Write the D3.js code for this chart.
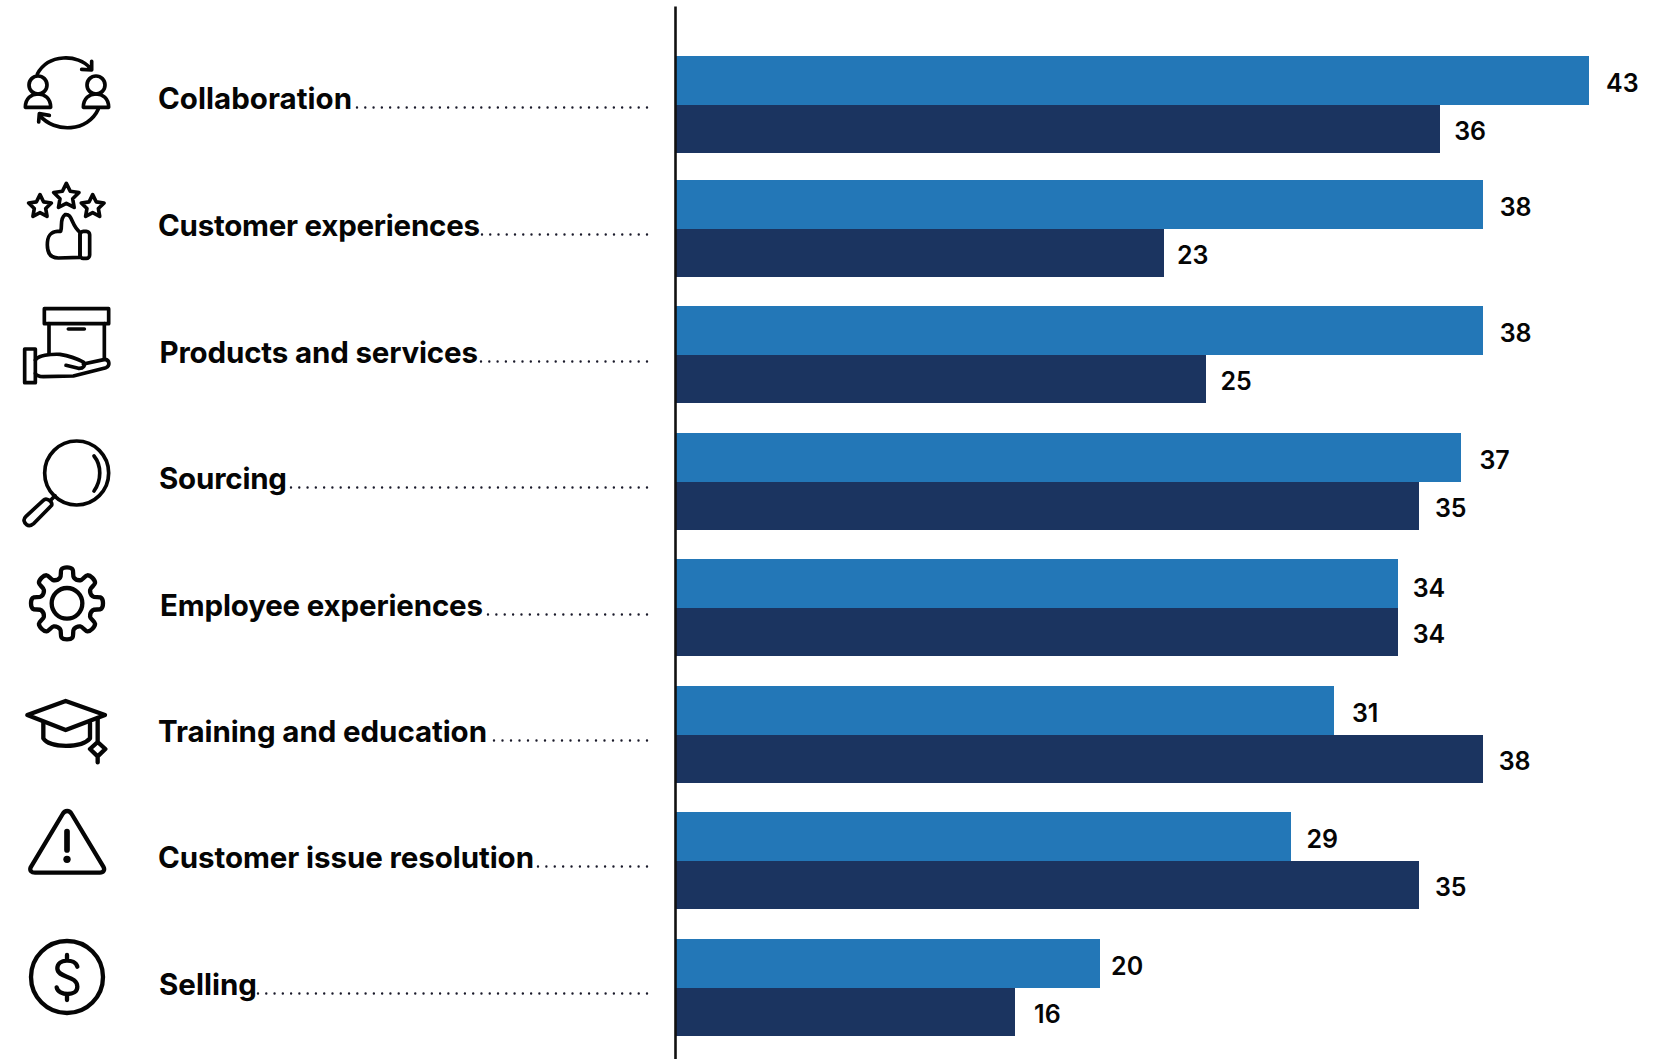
<!DOCTYPE html>
<html>
<head>
<meta charset="utf-8">
<script src="https://cdn.jsdelivr.net/npm/d3@7/dist/d3.min.js"></script>
<style>
  html, body { margin: 0; padding: 0; background: #fff; }
  svg { display: block; }
  .cat { font-family: Inter, sans-serif; font-weight: 700; font-size: 29.5px; fill: #050505; }
  .val { font-family: Inter, sans-serif; font-weight: 600; font-size: 25px; fill: #050505; }
  .icon * { fill: none; stroke: #050505; stroke-width: 11; stroke-linecap: round; stroke-linejoin: round; }
  .bar { shape-rendering: crispEdges; }
</style>
</head>
<body>
<svg id="chart" width="1672" height="1059"></svg>
<script>
// Survey values, one pair per capability
const categories = ["Collaboration", "Customer experiences", "Products and services", "Sourcing",
  "Employee experiences", "Training and education", "Customer issue resolution", "Selling"];
const lightValues = [43, 38, 38, 37, 34, 31, 29, 20];
const darkValues = [36, 23, 25, 35, 34, 38, 35, 16];
const seriesNames = ["light", "dark"];
const seriesColors = ["#2377B7", "#1B3460"];

// Row layout
const rowTops = [56, 180, 306, 433, 559, 686, 812, 939];
const labelLeft = [158, 158, 159.5, 159, 160, 158, 158, 159];
const labelRight = [352, 480, 478, 287, 483, 487, 534, 257];
const labelBase = [109, 236, 363, 489, 616, 742, 868, 995];
const leaderStart = [357, 482, 481, 291, 488, 494, 538, 258];
const leaderEnd = 647;
const lightNudge = [[1, 0.5], [1, 0.5], [1, 0.5], [2, 0.5], [-1, 2.5], [2, 0.5], [-1, 0.5], [-5, 0.5]];
const darkNudge = [[-2, 0.5], [-3, 0.5], [-2, 0.5], [0, 0.5], [-1, 0.5], [0, 0.5], [0, 0.5], [3, 0.5]];

const svg = d3.select("#chart");
const x = d3.scaleLinear().domain([0, 43]).range([675, 1589]);
const row = d3.scaleOrdinal(categories, rowTops);
const inner = d3.scaleBand().domain(seriesNames).range([0, 97.3]);

const rows = svg.selectAll("g.row").data(categories).join("g")
  .attr("class", "row")
  .attr("transform", d => `translate(0,${row(d)})`);

// Paired horizontal bars with their value labels
seriesNames.forEach((name, s) => {
  const values = s === 0 ? lightValues : darkValues;
  const nudge = s === 0 ? lightNudge : darkNudge;
  rows.append("rect")
    .attr("class", "bar")
    .attr("x", x(0))
    .attr("y", inner(name))
    .attr("width", (d, i) => x(values[i]) - x(0))
    .attr("height", inner.bandwidth())
    .attr("fill", seriesColors[s]);
  rows.append("text")
    .attr("class", "val")
    .attr("x", (d, i) => x(values[i]) + 16 + nudge[i][0])
    .attr("y", (d, i) => inner(name) + 35 + nudge[i][1])
    .text((d, i) => values[i]);
});

// Category labels and dotted leaders
categories.forEach((c, i) => {
  svg.append("text").attr("class", "cat")
    .attr("x", labelLeft[i]).attr("y", labelBase[i])
    .attr("textLength", labelRight[i] - labelLeft[i])
    .attr("lengthAdjust", "spacing")
    .text(c);
  const run = leaderEnd - leaderStart[i];
  const gap = run / Math.round(run / 8.3);
  svg.append("line")
    .attr("x1", leaderEnd).attr("x2", leaderStart[i] - 0.3)
    .attr("y1", labelBase[i] - 1.5).attr("y2", labelBase[i] - 1.5)
    .attr("stroke", "#1a1a2a").attr("stroke-width", 2.4)
    .attr("stroke-linecap", "round").attr("stroke-dasharray", `0 ${gap}`);
});

// Vertical baseline
const yAxis = d3.axisRight(d3.scaleLinear().domain([0, 1]).range([6, 1059])).tickValues([]).tickSizeOuter(0);
svg.append("g").attr("transform", "translate(675,0)").call(yAxis)
  .select(".domain").attr("stroke", "#111").attr("stroke-width", 2.6);

// Outline icons, drawn at triple size and scaled down
function icon(offsetY) {
  return svg.append("g").attr("class", "icon")
    .attr("transform", `translate(0,${offsetY}) scale(${1 / 3})`);
}
const star = (cx, cy, r) => {
  const pts = d3.range(10).map(k => {
    const a = -Math.PI / 2 + k * Math.PI / 5, q = k % 2 ? r * 0.5 : r;
    return [cx + q * Math.cos(a), cy + q * Math.sin(a)];
  });
  return "M" + pts.join("L") + "Z";
};

// Two people with circular arrows
const i1 = icon(30);
i1.append("path").attr("d", "M112 132C145 70 235 72 270 114M275 94L275 120L245 118");
i1.append("path").attr("d", "M295 237C265 305 165 312 118 255M116 276L118 251L148 256");
[113, 287].forEach(cx => {
  i1.append("circle").attr("cx", cx + 1).attr("cy", 165).attr("r", 27);
  i1.append("path").attr("d", `M${cx - 37} 232C${cx - 37} 205 ${cx - 19} 192 ${cx + 1} 192C${cx + 21} 192 ${cx + 39} 205 ${cx + 39} 232Z`);
});

// Stars over a thumbs-up
const i2 = icon(30);
i2.append("path").attr("d", star(199, 500, 40));
i2.append("path").attr("d", star(120, 530, 36));
i2.append("path").attr("d", star(278, 530, 36));
i2.append("path").attr("d", "M142 645C142 618 150 606 172 604L182 604C188 590 178 566 195 554C218 550 212 585 240 607L240 682L175 684C152 684 142 670 142 645Z");
i2.append("rect").attr("x", 240).attr("y", 604).attr("width", 29).attr("height", 81).attr("rx", 10);

// Box resting on a hand
const i3 = icon(280);
i3.append("rect").attr("x", 133).attr("y", 86).attr("width", 193).attr("height", 45);
i3.append("path").attr("d", "M147 131V222M313 131V236M205 147H253");
i3.append("rect").attr("x", 74).attr("y", 207).attr("width", 32).attr("height", 101);
i3.append("path").attr("d", "M106 240C115 226 150 222 180 223C210 228 235 238 250 246C258 256 250 266 235 265L198 256");
i3.append("path").attr("d", "M250 252L315 238C330 240 330 258 318 263L220 288L130 290C118 290 108 285 106 280");

// Magnifying glass
const i4 = icon(282);
i4.append("circle").attr("cx", 230).attr("cy", 573).attr("r", 96);
i4.append("path").attr("d", "M282 522C305 550 305 595 282 627M152 655L165 641");
i4.append("path").attr("d", "M130 655L78 703C68 712 72 722 80 728C88 734 95 730 102 724L155 670C158 660 140 645 130 655Z");

// Gear
const i5 = icon(540);
i5.append("circle").attr("cx", 201).attr("cy", 190).attr("r", 46).style("stroke-width", 13);
const gearPts = d3.range(8).flatMap(k => {
  const c = k * Math.PI / 4;
  return [[-15, 80], [-9, 104], [0, 108], [9, 104], [15, 80]].map(([deg, r]) => {
    const a = c + deg * Math.PI / 180;
    return [201 + r * Math.cos(a), 190 + r * Math.sin(a)];
  });
});
i5.append("path").attr("d", d3.line().curve(d3.curveCatmullRomClosed.alpha(0.5))(gearPts)).style("stroke-width", 13);

// Graduation cap
const i6 = icon(540);
i6.selectAll(null).data([
  "M82 525L197 483L315 525L197 570Z",
  "M130 548V595C150 625 245 625 270 595V548",
  "M293 535V605M293 650V667M293 606L316 627L293 649L270 627Z"
]).join("path").attr("d", d => d).style("stroke-width", 13);

// Warning triangle
const i7 = icon(790);
i7.append("path").attr("d", "M188 72L92 232C88 243 95 248 105 248L300 248C310 248 316 240 310 230L215 72C208 60 195 60 188 72Z").style("stroke-width", 13);
i7.append("path").attr("d", "M201 125V180").style("stroke-width", 17);
i7.append("circle").attr("cx", 201).attr("cy", 208).attr("r", 11).style("fill", "#050505").style("stroke", "none");

// Dollar coin
const i8 = icon(790);
i8.append("circle").attr("cx", 201).attr("cy", 561).attr("r", 108).style("stroke-width", 13);
i8.append("path").attr("d", "M232 530C225 505 172 505 172 535C172 565 232 555 232 590C232 620 175 618 170 592M201 495V510M201 615V630").style("stroke-width", 13);
</script>
</body>
</html>
